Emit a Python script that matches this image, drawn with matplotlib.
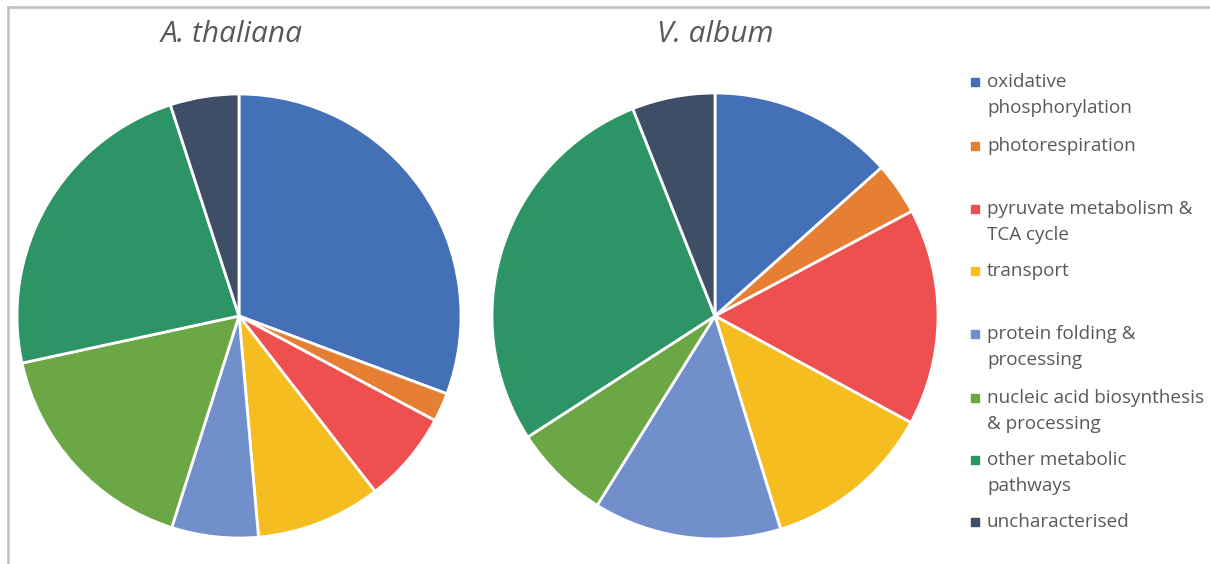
import matplotlib.pyplot as plt
from matplotlib.lines import Line2D

categories = ["oxidative\nphosphorylation", "photorespiration",
              "pyruvate metabolism &\nTCA cycle", "transport",
              "protein folding &\nprocessing", "nucleic acid biosynthesis\n& processing",
              "other metabolic\npathways", "uncharacterised"]
thaliana = [30.7, 2.1, 6.7, 9.1, 6.3, 16.7, 23.4, 5.0]
album = [13.4, 3.8, 15.7, 12.3, 13.6, 7.0, 28.1, 6.0]
colors = ["#4370B7", "#E67E33", "#EE5050", "#F6BD21",
          "#7190CB", "#6CA746", "#2D9465", "#3E4E66"]

W, H = 1210, 564
fig = plt.figure(figsize=(W / 100, H / 100), dpi=100)
plt.rcParams['font.family'] = ['Open Sans', 'DejaVu Sans']
txt = "#595959"

def px(x, y):
    return x / W, 1 - y / H

# pies
for vals, cx, cy, r, title, tx in [(thaliana, 239, 316, 222, "A. thaliana", 232),
                                   (album, 715, 316, 223, "V. album", 715)]:
    ax = fig.add_axes([(cx - r) / W, (H - cy - r) / H, 2 * r / W, 2 * r / H])
    ax.pie(vals, colors=colors, startangle=90, counterclock=False, radius=1,
           wedgeprops=dict(edgecolor="white", linewidth=2))
    ax.set_xlim(-1.0, 1.0)
    ax.set_ylim(-1.0, 1.0)
    ax.set_aspect("equal")
    ax.axis("off")
    fig.text(*px(tx, 35), title, ha="center", va="center", fontsize=21.5,
             style="italic", color=txt)

# legend drawn by hand (uneven spacing like the original)
legend_y = [95, 146, 222, 271, 347, 411, 473, 522]
for lab, c, y in zip(categories, colors, legend_y):
    nl = lab.count("\n")
    top = y - 13 * nl
    fig.add_artist(Line2D([975 / W], [1 - top / H], marker="s", markersize=6,
                          color=c, linestyle="none", transform=fig.transFigure))
    fig.text(*px(987, y), lab, ha="left", va="center", fontsize=13.6,
             color=txt, linespacing=1.6)

# border on left and top
fig.add_artist(Line2D([7.5 / W, 7.5 / W], [0, 1 - 6.5 / H], color="#BFBFBF",
                      linewidth=1.8, transform=fig.transFigure))
fig.add_artist(Line2D([7.5 / W, 1], [1 - 6.5 / H, 1 - 6.5 / H], color="#BFBFBF",
                      linewidth=1.8, transform=fig.transFigure))

fig.savefig("out.png", dpi=100)
